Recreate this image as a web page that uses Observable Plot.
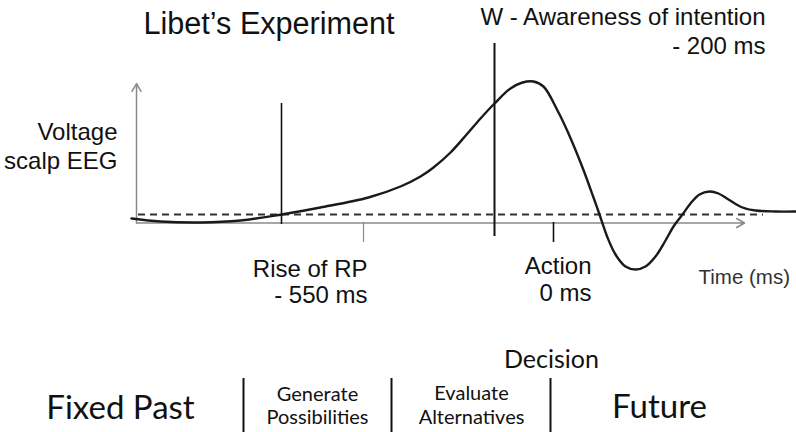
<!DOCTYPE html>
<html>
<head>
<meta charset="utf-8">
<script src="https://cdn.jsdelivr.net/npm/d3@7"></script>
<script src="https://cdn.jsdelivr.net/npm/@observablehq/plot@0.6"></script>
<style>
  html, body { margin: 0; padding: 0; background: #fff; }
</style>
</head>
<body>
<div id="chart"></div>
<script>
// Schematic time units (t) and voltage units (v, 0 = resting baseline)
const curveT = [-5, 24, 64, 104, 145, 184, 232, 264, 284, 297, 314, 331, 344, 358, 374, 386, 397, 407, 421, 432, 446, 457, 463, 471, 479, 489, 499, 509, 519, 529, 537, 546, 554, 563, 573, 582, 592, 606, 619, 639, 660];
const curveV = [-4, -7, -8, -6, 0, 7, 17, 28, 38, 47, 62, 81, 96, 111, 126, 132, 133, 128, 104, 81, 47, 17, 0, -23, -40, -52, -55, -52, -42, -26, -12, 0, 11, 20, 23, 21, 15, 7, 4, 3, 3];

// Event markers
const eventNames = ["Rise of RP", "W", "Action"];
const eventLabels = ["Rise of RP\n- 550 ms", "W - Awareness of intention\n- 200 ms", "Action\n0 ms"];
const rpOnsetT = 145;      // where the RP line crosses the baseline
const rpTickT = 227;       // small tick under the label
const wT = 358;            // awareness of intention
const actionT = 417;       // action

// Phase strip
const phaseLabels = ["Fixed Past", "Generate\nPossibilities", "Evaluate\nAlternatives", "Future"];
const phaseBounds = [107, 255, 414];   // separators between phases
const decisionLabel = "Decision";

const titleText = "Libet\u2019s Experiment";
const yLabel = "Voltage\nscalp EEG";
const xLabel = "Time (ms)";

const curve = curveT.map((t, i) => ({t, v: curveV[i]}));

// helpers to express annotation anchors in the plot's own units
const X = px => px - 136;
const Y = py => 214 - py;

const SANS = "'Liberation Sans', Arial, Helvetica, sans-serif";
const HUM = "Lato, 'Open Sans', sans-serif";

const chart = Plot.plot({
  width: 796,
  height: 432,
  margin: 0,
  style: {background: "#fff"},
  x: {domain: [-136, 660], range: [0, 796], axis: null},
  y: {domain: [-218, 214], range: [432, 0], axis: null},
  marks: [
    // axes with arrows
    Plot.arrow([{x1: 0, y1: -8.5, x2: 608, y2: -8.5}], {x1: "x1", y1: "y1", x2: "x2", y2: "y2", stroke: "#8a8a8a", strokeWidth: 1.5, headLength: 9, bend: 0}),
    Plot.arrow([{x1: 0, y1: -8.5, x2: 0, y2: 131}], {x1: "x1", y1: "y1", x2: "x2", y2: "y2", stroke: "#8a8a8a", strokeWidth: 1.5, headLength: 9, bend: 0}),
    // dashed baseline
    Plot.ruleY([0], {x1: 2, x2: 627, stroke: "#333", strokeWidth: 2, strokeDasharray: "7,5"}),
    // event lines and ticks
    Plot.ruleX([rpOnsetT], {y1: Y(224), y2: Y(103), stroke: "#111", strokeWidth: 1.6}),
    Plot.ruleX([wT], {y1: Y(236), y2: Y(43), stroke: "#111", strokeWidth: 2}),
    Plot.ruleX([rpTickT], {y1: Y(222), y2: Y(242), stroke: "#888", strokeWidth: 1.2}),
    Plot.ruleX([actionT], {y1: Y(222), y2: Y(242), stroke: "#111", strokeWidth: 1.6}),
    // RP curve
    Plot.line(curve, {x: "t", y: "v", curve: "catmull-rom", stroke: "#1a1a1a", strokeWidth: 2.4}),
    // titles and labels
    Plot.text([titleText], {x: X(143), y: Y(33), text: d => d, textAnchor: "start", lineAnchor: "bottom", fontSize: 30.6, fontFamily: SANS, fill: "#111"}),
    Plot.text([eventLabels[1]], {x: X(765), y: Y(53), text: d => d, textAnchor: "end", lineAnchor: "bottom", lineHeight: 1.17, fontSize: 24, fontFamily: SANS, fill: "#111"}),
    Plot.text([yLabel], {x: X(117), y: Y(168), text: d => d, textAnchor: "end", lineAnchor: "bottom", lineHeight: 1.17, fontSize: 24, fontFamily: SANS, fill: "#111"}),
    Plot.text([eventLabels[0]], {x: X(367), y: Y(302), text: d => d, textAnchor: "end", lineAnchor: "bottom", lineHeight: 1.05, fontSize: 24, fontFamily: SANS, fill: "#111"}),
    Plot.text([eventLabels[2]], {x: X(591), y: Y(300), text: d => d, textAnchor: "end", lineAnchor: "bottom", lineHeight: 1.12, fontSize: 24, fontFamily: SANS, fill: "#111"}),
    Plot.text([xLabel], {x: X(698), y: Y(283), text: d => d, textAnchor: "start", lineAnchor: "bottom", fontSize: 20.5, fontFamily: SANS, fill: "#333"}),
    // phase strip
    Plot.ruleX(phaseBounds, {y1: Y(378), y2: Y(432), stroke: "#111", strokeWidth: 2}),
    Plot.text([decisionLabel], {x: X(551), y: Y(367), text: d => d, textAnchor: "middle", lineAnchor: "bottom", fontSize: 25, fontFamily: HUM, fill: "#111"}),
    Plot.text([phaseLabels[0]], {x: X(120), y: Y(418), text: d => d, textAnchor: "middle", lineAnchor: "bottom", fontSize: 33, fontFamily: HUM, fill: "#111"}),
    Plot.text([phaseLabels[1]], {x: X(317), y: Y(423), text: d => d, textAnchor: "middle", lineAnchor: "bottom", lineHeight: 1.15, fontSize: 20, fontFamily: HUM, fill: "#111"}),
    Plot.text([phaseLabels[2]], {x: X(471), y: Y(423), text: d => d, textAnchor: "middle", lineAnchor: "bottom", lineHeight: 1.2, fontSize: 20, fontFamily: HUM, fill: "#111"}),
    Plot.text([phaseLabels[3]], {x: X(659), y: Y(417), text: d => d, textAnchor: "middle", lineAnchor: "bottom", fontSize: 33, fontFamily: HUM, fill: "#111"})
  ]
});
document.getElementById("chart").appendChild(chart);
</script>
</body>
</html>
